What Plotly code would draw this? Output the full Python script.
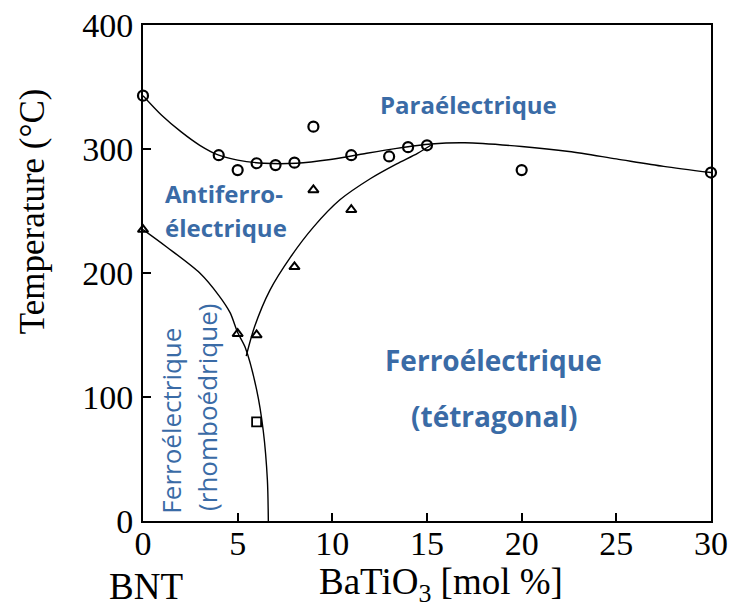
import plotly.graph_objects as go

# ---- data ----
circle_x = [0, 4, 5, 6, 7, 8, 9, 11, 13, 14, 15, 20, 30]
circle_y = [343, 295, 283, 288.5, 287, 289, 318, 295, 294, 301.5, 303, 283, 281]

tri_x = [0, 5, 6, 8, 9, 11]
tri_y = [235, 151, 150, 205, 267, 251]

square_x = [6]
square_y = [80]

curve_para_x = [0, 1, 2, 3, 4, 5, 6.4, 8.1, 9.9, 11.6, 13.4, 15.2, 17, 20, 22.5, 25, 27.5, 30]
curve_para_y = [343, 327, 314, 303, 295, 291, 288.5, 288.5, 291.5, 296, 300.5, 304, 305, 302, 298, 292, 286, 281]

curve_rhombo_x = [0, 1.25, 3.0, 4.0, 4.6, 5.0, 5.4, 6.0, 6.35, 6.57, 6.62]
curve_rhombo_y = [235, 221, 200, 182, 168, 152, 140, 106, 73, 33, 0]

curve_tetra_x = [5.45, 5.9, 6.7, 7.8, 9.0, 10.4, 12.0, 13.4, 14.5, 15.2]
curve_tetra_y = [133, 157, 186, 213, 237, 259, 276, 288, 296.5, 303]

x_ticks = [0, 5, 10, 15, 20, 25, 30]
y_ticks = [0, 100, 200, 300, 400]

BLUE = "#3a6ba6"
SERIF = "Liberation Serif, Times New Roman, serif"
SANS = "Open Sans, Noto Sans, sans-serif"

fig = go.Figure()
line_style = dict(color="black", width=1.4, shape="spline", smoothing=0.8)
for cx, cy in [(curve_para_x, curve_para_y), (curve_rhombo_x, curve_rhombo_y), (curve_tetra_x, curve_tetra_y)]:
    fig.add_trace(go.Scatter(x=cx, y=cy, mode="lines", line=line_style, hoverinfo="skip", showlegend=False,
                             cliponaxis=False))

fig.add_trace(go.Scatter(x=circle_x, y=circle_y, mode="markers", showlegend=False, cliponaxis=False,
                         marker=dict(symbol="circle-open", size=10, color="black", line=dict(width=2.2, color="black"))))
fig.add_trace(go.Scatter(x=tri_x, y=tri_y, mode="markers", showlegend=False, cliponaxis=False,
                         marker=dict(symbol="triangle-up-open", size=9, color="black", line=dict(width=2, color="black"))))
fig.add_trace(go.Scatter(x=square_x, y=square_y, mode="markers", showlegend=False,
                         marker=dict(symbol="square-open", size=9, color="black", line=dict(width=1.8, color="black"))))

anns = []
def blue(text, x, y, size, weight="bold", angle=0, xanchor="center"):
    anns.append(dict(x=x, y=y, xref="x", yref="y", text=text, showarrow=False, textangle=angle,
                     xanchor=xanchor, yanchor="middle",
                     font=dict(family=SANS, size=size, color=BLUE, weight=weight)))

blue("Paraélectrique", 17.2, 336, 24)
blue("Antiferro-", 1.05, 264.5, 24, xanchor="left")
blue("électrique", 1.05, 237, 24, xanchor="left")
blue("Ferroélectrique", 18.5, 130, 28)
blue("(tétragonal)", 18.55, 85, 28)
blue("Ferroélectrique", 1.43, 81, 26, weight="normal", angle=-90)
blue("(rhomboédrique)", 3.38, 92, 26, weight="normal", angle=-90)

anns.append(dict(x=-0.195, y=0.625, xref="paper", yref="paper", text="Temperature (°C)", showarrow=False,
                 xanchor="center", yanchor="middle",
                 textangle=-90, font=dict(family=SERIF, size=35, color="black")))
anns.append(dict(x=0.006, y=-0.133, xref="paper", yref="paper", text="BNT", showarrow=False,
                 xanchor="center", yanchor="middle",
                 font=dict(family=SERIF, size=37, color="black")))
anns.append(dict(x=0.525, y=-0.128, xref="paper", yref="paper", text="BaTiO<sub>3</sub> [mol %]", showarrow=False,
                 xanchor="center", yanchor="middle",
                 font=dict(family=SERIF, size=37, color="black")))

axis_common = dict(showgrid=False, zeroline=False, showline=True, linecolor="black", linewidth=2,
                   mirror=True, ticks="inside", ticklen=8, tickwidth=2, tickcolor="black", automargin=False,
                   tickfont=dict(family=SERIF, size=34, color="black"))

fig.update_layout(
    width=732, height=608,
    margin=dict(l=143, r=21, t=25, b=87),
    paper_bgcolor="white", plot_bgcolor="white",
    xaxis=dict(range=[0, 30], tickvals=x_ticks, ticktext=[str(v) for v in x_ticks], **axis_common),
    yaxis=dict(range=[0, 400], tickvals=y_ticks, ticktext=[str(v) for v in y_ticks], **axis_common),
    annotations=anns,
    showlegend=False,
)
fig.update_xaxes(ticklabelstandoff=-9)
fig.update_yaxes(ticklabelstandoff=1)

fig.write_html("out.html", config={"displayModeBar": False},
               post_script="document.body.style.margin='0px';")
